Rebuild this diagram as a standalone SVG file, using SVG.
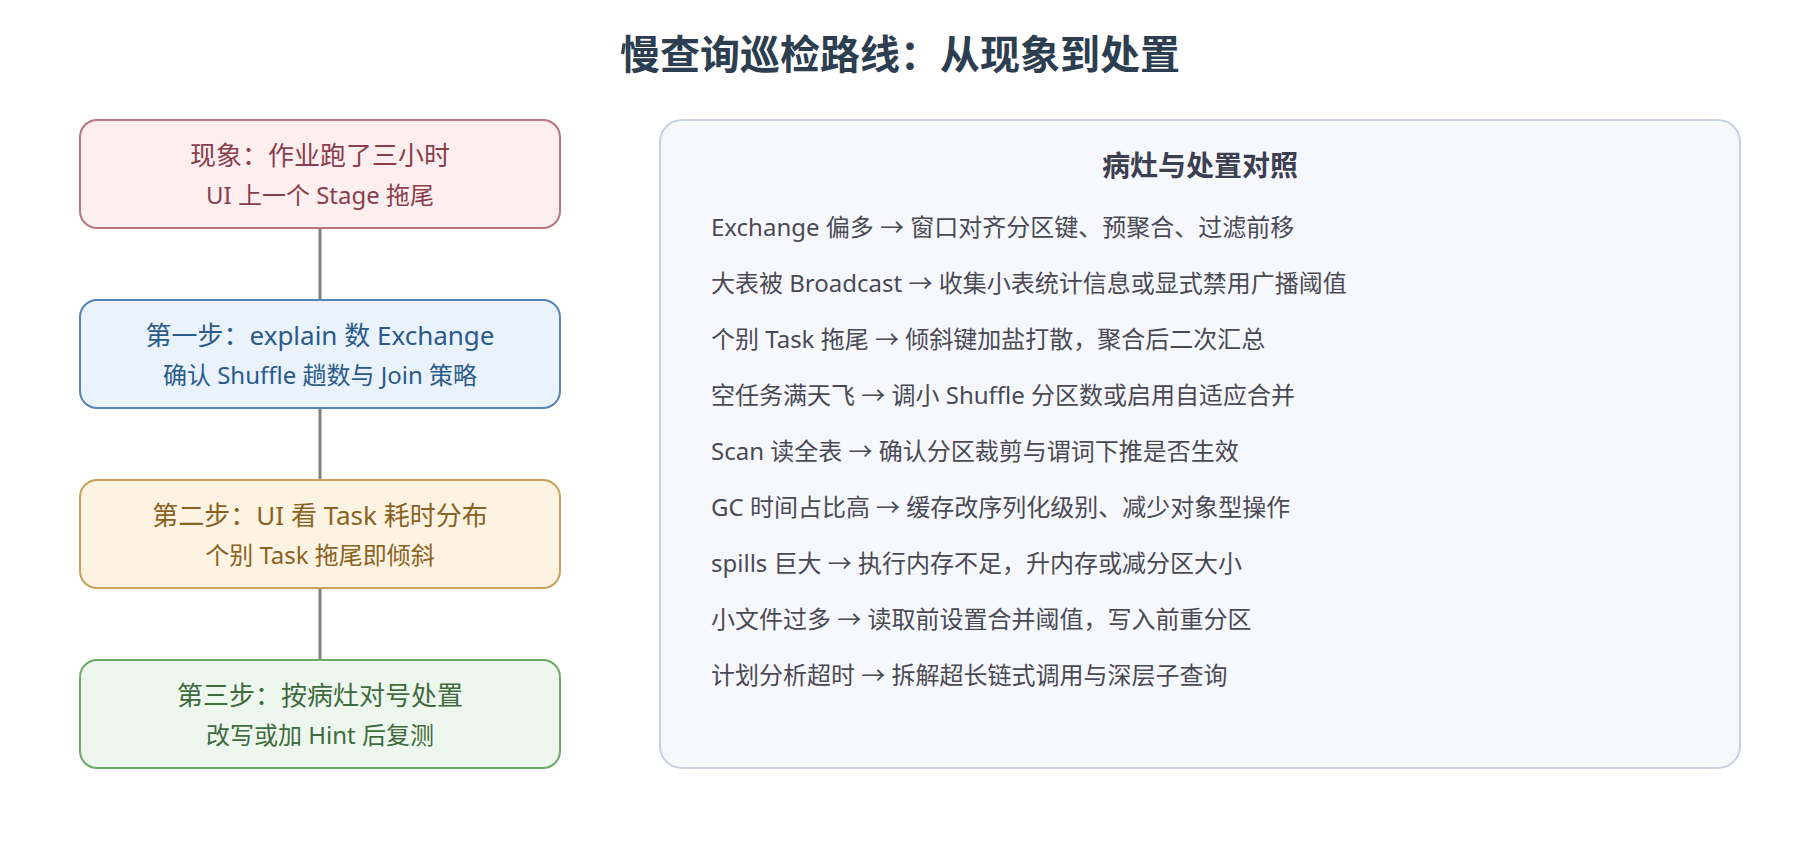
<svg xmlns="http://www.w3.org/2000/svg" width="1800" height="860" viewBox="0 0 1800 860">
  <style>
    text { font-family: "Noto Sans", "Noto Sans CJK SC", sans-serif; }
    .title { font-size: 40px; font-weight: 700; fill: #2c3e50; text-anchor: middle; }
    .node rect { stroke-width: 2; }
    .l1 { font-size: 26px; text-anchor: middle; }
    .l2 { font-size: 24px; text-anchor: middle; }
    .n1 rect { fill: #fdeef0; stroke: #b87582; }
    .n1 text { fill: #8a3e4c; }
    .n2 rect { fill: #eaf2fb; stroke: #5585b5; }
    .n2 text { fill: #2b5b8a; }
    .n3 rect { fill: #fdf3e2; stroke: #c9a15c; }
    .n3 text { fill: #8a6222; }
    .n4 rect { fill: #eef7ee; stroke: #6aab6a; }
    .n4 text { fill: #3f6b3f; }
    .conn line { stroke: #808080; stroke-width: 3; }
    .panel rect { fill: #f7f8fc; stroke: #c8d0e2; stroke-width: 2; }
    .ptitle { font-size: 28px; font-weight: 700; fill: #3c3f52; text-anchor: middle; }
    .item { font-size: 24px; fill: #4a4a55; }
  </style>

  <text class="title" x="900" y="69">慢查询巡检路线：从现象到处置</text>

  <g id="connectors" class="conn">
    <line x1="320" y1="228" x2="320" y2="300"/>
    <line x1="320" y1="408" x2="320" y2="480"/>
    <line x1="320" y1="588" x2="320" y2="660"/>
  </g>

  <g id="node-symptom" class="node n1">
    <rect x="80" y="120" width="480" height="108" rx="17"/>
    <text class="l1" x="320" y="165">现象：作业跑了三小时</text>
    <text class="l2" x="320" y="204">UI 上一个 Stage 拖尾</text>
  </g>

  <g id="node-step1" class="node n2">
    <rect x="80" y="300" width="480" height="108" rx="17"/>
    <text class="l1" x="320" y="345">第一步：explain 数 Exchange</text>
    <text class="l2" x="320" y="384">确认 Shuffle 趟数与 Join 策略</text>
  </g>

  <g id="node-step2" class="node n3">
    <rect x="80" y="480" width="480" height="108" rx="17"/>
    <text class="l1" x="320" y="525">第二步：UI 看 Task 耗时分布</text>
    <text class="l2" x="320" y="564">个别 Task 拖尾即倾斜</text>
  </g>

  <g id="node-step3" class="node n4">
    <rect x="80" y="660" width="480" height="108" rx="17"/>
    <text class="l1" x="320" y="705">第三步：按病灶对号处置</text>
    <text class="l2" x="320" y="744">改写或加 Hint 后复测</text>
  </g>

  <g id="panel" class="panel">
    <rect x="660" y="120" width="1080" height="648" rx="22"/>
    <text class="ptitle" x="1200" y="176">病灶与处置对照</text>
    <text class="item" x="711" y="236">Exchange 偏多 → 窗口对齐分区键、预聚合、过滤前移</text>
    <text class="item" x="711" y="292">大表被 Broadcast → 收集小表统计信息或显式禁用广播阈值</text>
    <text class="item" x="711" y="348">个别 Task 拖尾 → 倾斜键加盐打散，聚合后二次汇总</text>
    <text class="item" x="711" y="404">空任务满天飞 → 调小 Shuffle 分区数或启用自适应合并</text>
    <text class="item" x="711" y="460">Scan 读全表 → 确认分区裁剪与谓词下推是否生效</text>
    <text class="item" x="711" y="516">GC 时间占比高 → 缓存改序列化级别、减少对象型操作</text>
    <text class="item" x="711" y="572">spills 巨大 → 执行内存不足，升内存或减分区大小</text>
    <text class="item" x="711" y="628">小文件过多 → 读取前设置合并阈值，写入前重分区</text>
    <text class="item" x="711" y="684">计划分析超时 → 拆解超长链式调用与深层子查询</text>
  </g>
</svg>
